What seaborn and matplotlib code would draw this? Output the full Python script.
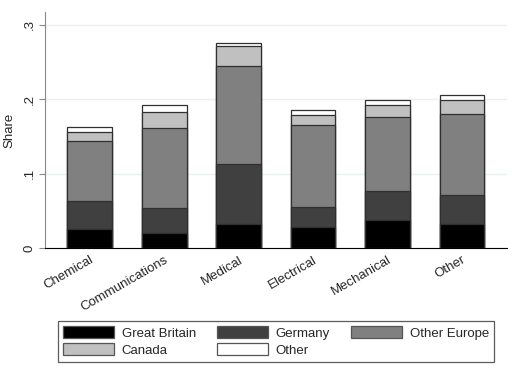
import numpy as np
import pandas as pd
import matplotlib
matplotlib.use("Agg")
import matplotlib.pyplot as plt
import seaborn as sns
from matplotlib.patches import Patch

categories = ["Chemical", "Communications", "Medical", "Electrical", "Mechanical", "Other"]
great_britain = [0.0255, 0.0205, 0.032, 0.028, 0.038, 0.0326]
germany = [0.0375, 0.0335, 0.081, 0.027, 0.0385, 0.0384]
other_europe = [0.081, 0.108, 0.1317, 0.110, 0.0995, 0.109]
canada = [0.0125, 0.0205, 0.0263, 0.014, 0.0164, 0.0195]
other = [0.0065, 0.0095, 0.004, 0.006, 0.0066, 0.0065]

series = ["Great Britain", "Germany", "Other Europe", "Canada", "Other"]
colors = ["#000000", "#404040", "#808080", "#c0c0c0", "#ffffff"]

sns.set_style("white")
plt.rcParams["font.family"] = ["Liberation Sans", "DejaVu Sans"]

df = pd.DataFrame({"cat": categories, "Great Britain": great_britain, "Germany": germany,
                   "Other Europe": other_europe, "Canada": canada, "Other": other})
cum = df[series].cumsum(axis=1)

fig = plt.figure(figsize=(5.18, 3.78), dpi=100)
ax = fig.add_axes([0.087, 0.343, 0.891, 0.625])

# draw tallest stack first so each lower layer paints over it
for s, c in zip(series[::-1], colors[::-1]):
    sns.barplot(x=df["cat"], y=cum[s], color=c, width=0.6, edgecolor="#303030",
                linewidth=0.9, saturation=1, ax=ax, zorder=3)

fs = 9.5
ax.set_xlim(-0.6, 5.6)
ax.set_ylim(0, 0.317)
ax.set_yticks([0, 0.1, 0.2, 0.3])
ax.set_yticklabels(["0", ".1", ".2", ".3"], rotation=90, va="center", fontsize=fs)
ax.set_ylabel("Share", fontsize=fs, labelpad=6)
ax.set_xlabel("")
ax.set_xticks(range(len(categories)))
ax.set_xticklabels(categories, rotation=30, ha="right", rotation_mode="anchor", fontsize=fs)
ax.yaxis.grid(True, color="#eaf1f2", linewidth=1, zorder=0)
ax.tick_params(axis="y", length=4, width=0.8, color="#888888", pad=3, left=True)
ax.tick_params(axis="x", length=0, pad=4, bottom=False)
for side in ["top", "right"]:
    ax.spines[side].set_visible(False)
ax.spines["left"].set_color("#888888")
ax.spines["bottom"].set_color("#000000")

handles = [Patch(facecolor=c, edgecolor="#555555", linewidth=0.9, label=s) for s, c in zip(series, colors)]
order = [0, 3, 1, 4, 2]
leg = fig.legend([handles[i] for i in order], [series[i] for i in order], ncol=3,
                 loc="center", bbox_to_anchor=(0.533, 0.0966), frameon=True,
                 fontsize=fs, handlelength=3.85, handleheight=1.0, columnspacing=1.6,
                 handletextpad=0.6, labelspacing=0.3, borderpad=0.35, fancybox=False)
leg.get_frame().set_edgecolor("#333333")
leg.get_frame().set_linewidth(0.9)

fig.savefig("out.png", dpi=100)
